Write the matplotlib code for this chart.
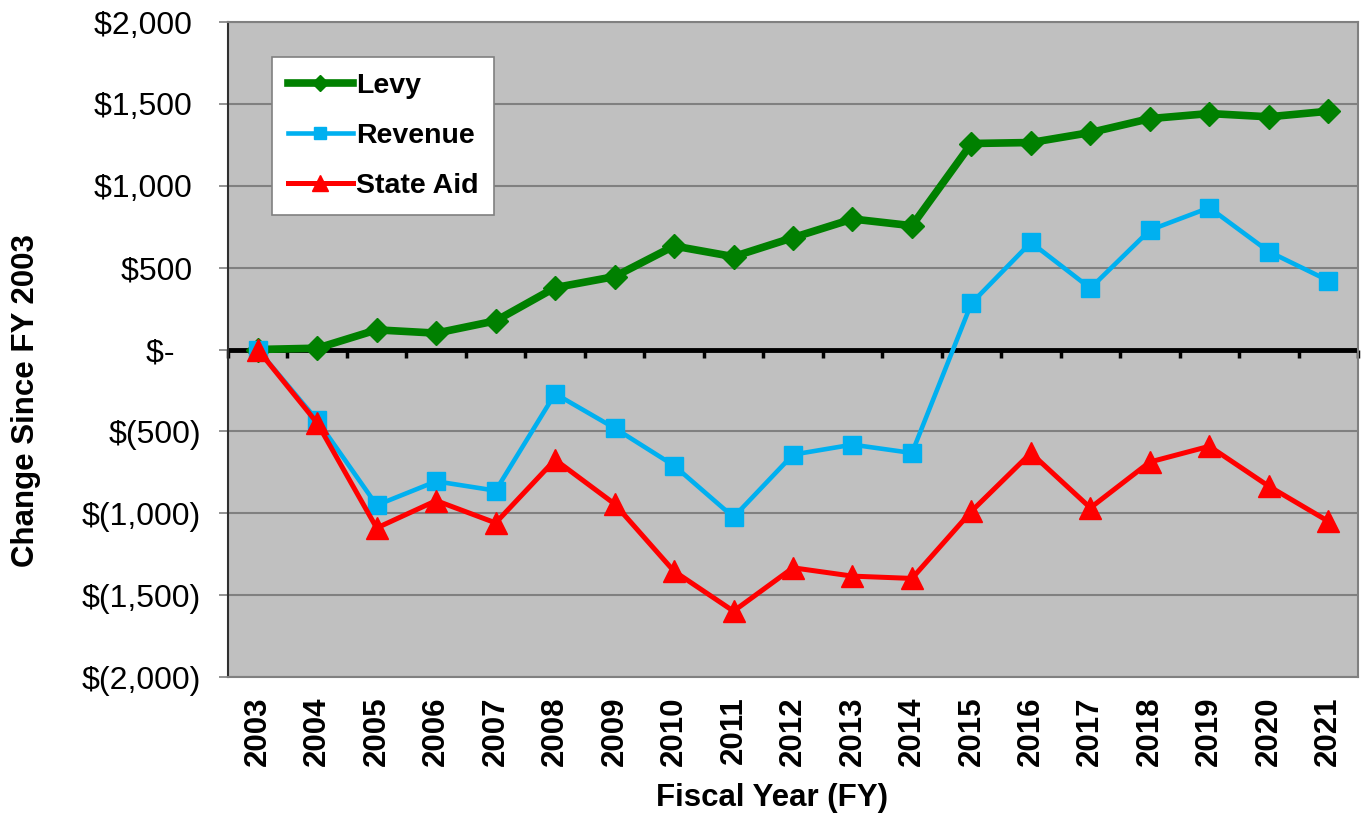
import numpy as np
import matplotlib
matplotlib.use("Agg")
import matplotlib.pyplot as plt

# Data (change since FY 2003, dollars)
years = ["2003", "2004", "2005", "2006", "2007", "2008", "2009", "2010", "2011", "2012",
         "2013", "2014", "2015", "2016", "2017", "2018", "2019", "2020", "2021"]
levy = [0, 8, 120, 100, 175, 378, 445, 632, 567, 683,
        797, 756, 1258, 1264, 1325, 1410, 1441, 1421, 1455]
revenue = [0, -433, -951, -805, -862, -270, -480, -709, -1024, -642,
           -581, -632, 282, 654, 374, 729, 866, 598, 421]
state_aid = [0, -449, -1090, -923, -1059, -673, -943, -1354, -1598, -1333,
             -1384, -1398, -988, -632, -967, -687, -591, -835, -1049]
y_ticks = [2000, 1500, 1000, 500, 0, -500, -1000, -1500, -2000]

plt.rcParams["font.family"] = ["Liberation Sans", "DejaVu Sans"]

W, H = 1363, 817
fig = plt.figure(figsize=(W / 100, H / 100), dpi=100)
ax = fig.add_axes([228 / W, 1 - 677 / H, 1130 / W, 655 / H])
ax.set_facecolor("#C0C0C0")

x = np.arange(len(years))

# gridlines and zero axis
for v in y_ticks:
    ax.axhline(v, color="#808080", lw=1.5, zorder=1)
ax.axhline(0, color="black", lw=3.5, zorder=2)
ax.plot(np.arange(len(years) + 1) - 0.5, np.zeros(len(years) + 1), ls="none",
        marker=3, ms=6, mew=2.5, color="black", zorder=2, clip_on=False)

ax.plot(x, levy, color="#008000", lw=5.5, marker="D", ms=12, label="Levy", zorder=3)
ax.plot(x, revenue, color="#00B0F0", lw=3.3, marker="s", ms=13, label="Revenue", zorder=4)
ax.plot(x, state_aid, color="#FF0000", lw=3.6, marker="^", ms=16, label="State Aid", zorder=5)

ax.set_xlim(-0.5, len(years) - 0.5)
ax.set_ylim(-2000, 2000)


def fmt(v):
    if v == 0:
        return "$-   "
    if v < 0:
        return "$({:,})".format(-v)
    return "${:,} ".format(v)


ax.set_yticks(y_ticks)
ax.set_yticklabels([fmt(v) for v in y_ticks], fontsize=23)
ax.tick_params(axis="y", direction="out", length=6.5, width=1.2, color="#808080", pad=13)
ax.set_xticks(x)
ax.set_xticklabels(years, rotation=90, fontsize=22.5, fontweight="bold")
ax.tick_params(axis="x", length=0, pad=14)

for side in ["top", "right", "bottom"]:
    ax.spines[side].set_color("#808080")
    ax.spines[side].set_linewidth(1.5)
ax.spines["left"].set_color("#303030")
ax.spines["left"].set_linewidth(1.5)

fig.text(26 / W, 1 - 401 / H, "Change Since FY 2003", rotation=90, ha="center", va="center",
         fontsize=22.5, fontweight="bold")
fig.text(772 / W, 1 - 798 / H, "Fiscal Year (FY)", ha="center", va="center",
         fontsize=22.5, fontweight="bold")

leg = ax.legend(loc="upper left", bbox_to_anchor=(44 / 1130, (677 - 57) / 655),
                borderaxespad=0, fancybox=False, framealpha=1, edgecolor="#808080",
                prop={"weight": "bold", "size": 20.5}, handlelength=2.3, handletextpad=0.1,
                labelspacing=0.85, borderpad=0.55, markerscale=0.7)
leg.get_frame().set_linewidth(1.2)
leg.set_zorder(10)

fig.savefig("out.png", dpi=100)
